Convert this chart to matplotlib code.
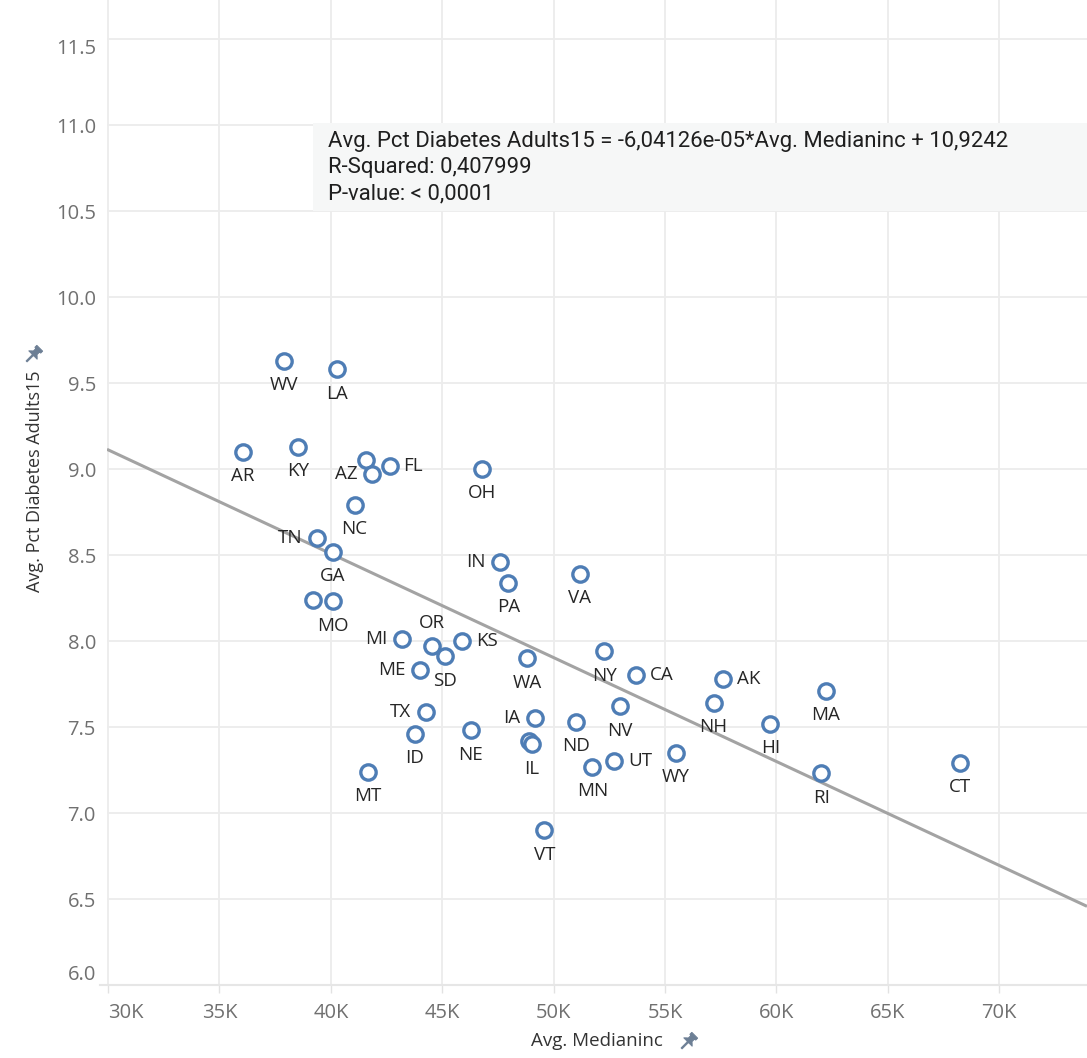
import matplotlib
matplotlib.use("Agg")
import matplotlib.pyplot as plt
from matplotlib.path import Path
from matplotlib.patches import PathPatch, Rectangle
from matplotlib.transforms import Affine2D
from matplotlib.lines import Line2D

# ---- data -------------------------------------------------------------
states = ["WV", "LA", "AR", "KY", "", "AZ", "FL", "OH", "NC", "TN", "GA",
          "IN", "PA", "", "MO", "VA", "MI", "OR", "SD", "KS", "ME", "WA",
          "NY", "CA", "NV", "TX", "ID", "NE", "IA", "", "IL", "ND", "MN",
          "UT", "WY", "MT", "VT", "AK", "NH", "HI", "MA", "RI", "CT"]
median_income = [37900, 40290, 36050, 38520, 41570, 41850, 42640, 46770,
                 41070, 39390, 40100, 47610, 47970, 39190, 40080, 51180,
                 43210, 44540, 45130, 45900, 43990, 48810, 52280, 53700,
                 52990, 44270, 43780, 46280, 49160, 48880, 49030, 51000,
                 51740, 52710, 55480, 41660, 49580, 57620, 57180, 59720,
                 62220, 62010, 68240]
pct_diabetes = [9.63, 9.58, 9.10, 9.13, 9.05, 8.97, 9.02, 9.00, 8.79, 8.60,
                8.52, 8.46, 8.34, 8.24, 8.23, 8.39, 8.01, 7.97, 7.91, 8.00,
                7.83, 7.90, 7.94, 7.80, 7.62, 7.59, 7.46, 7.48, 7.55, 7.42,
                7.40, 7.53, 7.27, 7.30, 7.35, 7.24, 6.90, 7.78, 7.64, 7.52,
                7.71, 7.23, 7.29]

# trend model
slope = -6.04126e-05
intercept = 10.9242
r_squared = 0.407999
p_value_text = "< 0,0001"

x_ticks = [30000, 35000, 40000, 45000, 50000, 55000, 60000, 65000, 70000]
x_tick_labels = ["30K", "35K", "40K", "45K", "50K", "55K", "60K", "65K", "70K"]
y_ticks = [6.0, 6.5, 7.0, 7.5, 8.0, 8.5, 9.0, 9.5, 10.0, 10.5, 11.0, 11.5]

# which side of its mark each label sits on
label_side = {"TN": "l", "IN": "l", "MI": "l", "ME": "l", "TX": "l",
              "IA": "l", "AZ": "l", "FL": "r", "KS": "r", "CA": "r",
              "AK": "r", "UT": "r", "OR": "t"}

# ---- figure -----------------------------------------------------------
W, H = 1087, 1058
fig = plt.figure(figsize=(W / 100, H / 100), dpi=100)
fig.patch.set_facecolor("white")

ax_l, ax_r, ax_b, ax_t = 107, 1087, 985, 0
ax = fig.add_axes([ax_l / W, 1 - ax_b / H, (ax_r - ax_l) / W, (ax_b - ax_t) / H])
ax.set_xlim(29955, 73938)
ax.set_ylim(6.0, 11.727)

grid_c = "#ececec"
for s in ax.spines.values():
    s.set_visible(False)
ax.set_xticks(x_ticks)
ax.set_yticks(y_ticks)
ax.grid(True, color=grid_c, linewidth=1.3, zorder=0)
ax.set_axisbelow(True)
ax.tick_params(axis="y", length=0, pad=8)
ax.tick_params(axis="x", length=6, width=1.0, color="#e2e2e2", pad=7)
tick_font = dict(fontfamily="Open Sans", fontsize=14.5, color="#707070")
ax.set_xticklabels(x_tick_labels, **tick_font)
ax.set_yticklabels([f"{v:.1f}" for v in y_ticks], **tick_font)
xt = ax.get_xticklabels()
xt[0].set_ha("left")
yt = ax.get_yticklabels()
yt[0].set_va("bottom")
yt[-1].set_va("top")

# baseline running slightly past the left edge
fig.add_artist(Line2D([100 / W, 1.0], [1 - ax_b / H, 1 - ax_b / H],
                      color="#e6e6e6", linewidth=1.5, transform=fig.transFigure))

# trend line
xl = ax.get_xlim()
ax.plot(xl, [slope * xl[0] + intercept, slope * xl[1] + intercept],
        color="#a3a3a3", linewidth=2.2, zorder=2, solid_capstyle="butt")

# marks
ax.scatter(median_income, pct_diabetes, s=122, facecolors="white",
           edgecolors="#4e7db5", linewidths=2.4, zorder=4)

# labels
for name, xv, yv in zip(states, median_income, pct_diabetes):
    if not name:
        continue
    side = label_side.get(name, "b")
    if side == "b":
        off, ha, va = (0, -17.5), "center", "center"
    elif side == "t":
        off, ha, va = (0, 17), "center", "center"
    elif side == "l":
        off, ha, va = (-10.5, 0), "right", "center"
    else:
        off, ha, va = (10, 0), "left", "center"
    ax.annotate(name, (xv, yv), xytext=off, textcoords="offset points",
                ha=ha, va=va, fontsize=13.5, color="#262626",
                fontfamily="Open Sans", zorder=5)

# regression summary box
bx0, by0, bx1, by1 = 313, 123, 1087, 211
ax.add_patch(Rectangle((bx0 / W, 1 - by1 / H), (bx1 - bx0) / W, (by1 - by0) / H,
                       transform=fig.transFigure, facecolor="#f6f7f7",
                       edgecolor="none", zorder=3))
fmt = lambda v: str(v).replace(".", ",")
lines = [f"Avg. Pct Diabetes Adults15 = {fmt(f'{slope:.6g}')}*Avg. Medianinc + {fmt(intercept)}",
         f"R-Squared: {fmt(r_squared)}",
         f"P-value: {p_value_text}"]
for i, txt in enumerate(lines):
    fig.text(328 / W, 1 - (141 + 26.5 * i) / H, txt, ha="left", va="center",
             fontsize=15.9, color="#1f1f1f", fontfamily="Roboto", zorder=6)

# axis titles
fig.text(597 / W, 1 - 1041 / H, "Avg. Medianinc", ha="center", va="center",
         fontsize=13.5, color="#333333", fontfamily="Open Sans")
fig.text(35 / W, 1 - 481 / H, "Avg. Pct Diabetes Adults15", ha="center",
         va="center", rotation=90, fontsize=13, color="#333333",
         fontfamily="Open Sans")


def pin(cx, cy, size, angle):
    """Small push-pin glyph drawn in pixel space."""
    parts = [
        [(-0.38, 0.74), (0.38, 0.74), (0.38, 1.0), (-0.38, 1.0)],
        [(-0.24, 0.3), (0.24, 0.3), (0.24, 0.78), (-0.24, 0.78)],
        [(-0.55, 0.12), (0.55, 0.12), (0.3, 0.36), (-0.3, 0.36)],
        [(-0.07, -0.7), (0.07, -0.7), (0.07, 0.15), (-0.07, 0.15)],
    ]
    verts, codes = [], []
    for p in parts:
        verts += p + [p[0]]
        codes += [Path.MOVETO] + [Path.LINETO] * (len(p) - 1) + [Path.CLOSEPOLY]
    tr = Affine2D().scale(size).rotate_deg(angle).translate(cx, H - cy)
    fig.add_artist(PathPatch(Path(verts, codes), transform=tr,
                             facecolor="#6d7f95", edgecolor="#6d7f95", lw=0.6))


pin(687, 1043, 11, -45)
pin(32, 356, 11, -45)

fig.savefig("out.png", dpi=100)
